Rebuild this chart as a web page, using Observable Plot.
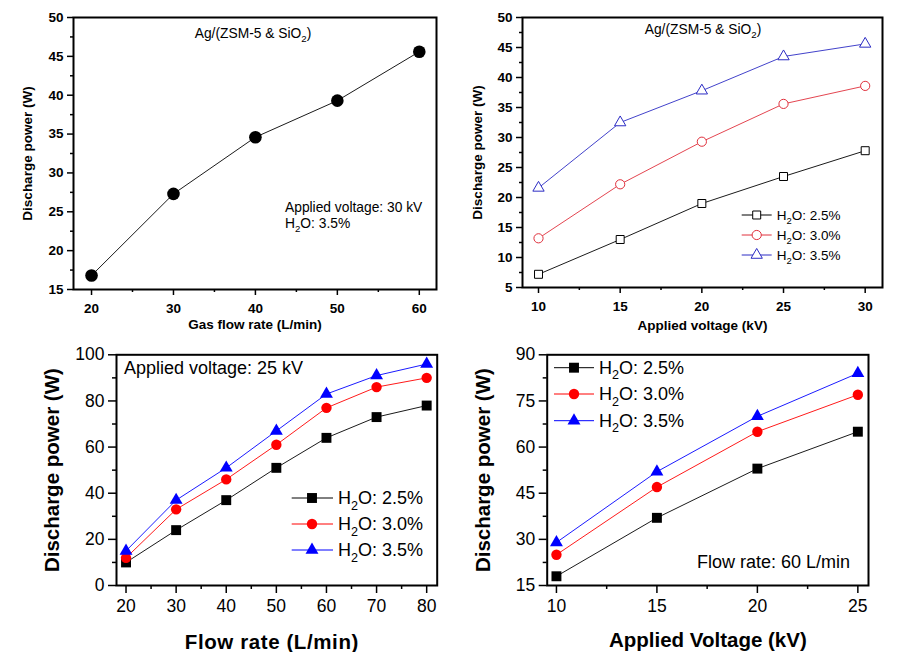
<!DOCTYPE html>
<html><head><meta charset="utf-8">
<script src="https://cdn.jsdelivr.net/npm/d3@7"></script>
<script src="https://cdn.jsdelivr.net/npm/@observablehq/plot@0.6"></script>
<style>
body{margin:0;background:#fff;}
#root{position:relative;width:908px;height:652px;overflow:hidden;background:#fff;}
.panel{position:absolute;}
</style></head><body><div id="root"></div>
<script>
// ---------- DATA ----------
// (a) top-left: discharge power vs gas flow rate
const flowA = [20, 30, 40, 50, 60];
const powerA = [16.8, 27.3, 34.6, 39.3, 45.6];
// (b) top-right: discharge power vs applied voltage
const voltB = [10, 15, 20, 25, 30];
const powerB25 = [7.2, 13.0, 19.0, 23.5, 27.8];
const powerB30 = [13.2, 22.2, 29.3, 35.6, 38.6];
const powerB35 = [21.6, 32.5, 37.8, 43.5, 45.6];
// (c) bottom-left: discharge power vs flow rate
const flowC = [20, 30, 40, 50, 60, 70, 80];
const powerC25 = [10, 24, 37, 51, 64, 73, 78];
const powerC30 = [12, 33, 46, 61, 77, 86, 90];
const powerC35 = [15, 37, 51, 67, 83, 91, 96];
// (d) bottom-right: discharge power vs applied voltage
const voltD = [10, 15, 20, 25];
const powerD25 = [18, 37, 53, 65];
const powerD30 = [25, 47, 65, 77];
const powerD35 = [29, 52, 70, 84];

const seriesNames = ["H₂O: 2.5%", "H₂O: 3.0%", "H₂O: 3.5%"];

// tick labels
const ticksAx = [20, 30, 40, 50, 60], minorAx = [25, 35, 45, 55];
const ticksAy = [15, 20, 25, 30, 35, 40, 45, 50], minorAy = [17.5, 22.5, 27.5, 32.5, 37.5, 42.5, 47.5];
const ticksBx = [10, 15, 20, 25, 30], minorBx = [12.5, 17.5, 22.5, 27.5];
const ticksBy = [5, 10, 15, 20, 25, 30, 35, 40, 45, 50], minorBy = [7.5, 12.5, 17.5, 22.5, 27.5, 32.5, 37.5, 42.5, 47.5];
const ticksCx = [20, 30, 40, 50, 60, 70, 80], minorCx = [25, 35, 45, 55, 65, 75];
const ticksCy = [0, 20, 40, 60, 80, 100], minorCy = [10, 30, 50, 70, 90];
const ticksDx = [10, 15, 20, 25], minorDx = [12.5, 17.5, 22.5];
const ticksDy = [15, 30, 45, 60, 75, 90], minorDy = [22.5, 37.5, 52.5, 67.5, 82.5];

// ---------- HELPERS ----------
const FONT = "Arial, 'Liberation Sans', Helvetica, sans-serif";
const SYM = {square: d3.symbolSquare, circle: d3.symbolCircle, triangle: d3.symbolTriangle};

function richText(g, str, x, y, size, weight, anchor, spacing) {
  const t = g.append("text").attr("x", x).attr("y", y).attr("font-size", size)
    .attr("font-weight", weight || "normal").attr("text-anchor", anchor || "start")
    .attr("dy", "0.35em").attr("fill", "black");
  if (spacing) t.attr("letter-spacing", spacing);
  str.split("₂").forEach((p, i) => {
    if (i > 0) {
      t.append("tspan").attr("font-size", size * 0.7).attr("dy", size * 0.3).text("2");
      t.append("tspan").attr("font-size", size).attr("dy", -size * 0.3).text(p);
    } else t.append("tspan").text(p);
  });
}

function overlay(texts, legend) {
  return () => {
    const g = d3.create("svg:g").attr("font-family", FONT);
    for (const it of texts) richText(g, it.text, it.x, it.y, it.size, it.weight, it.anchor);
    if (legend) {
      legend.rows.forEach((y, i) => {
        const st = legend.styles[i];
        g.append("line").attr("x1", legend.x0).attr("x2", legend.x1).attr("y1", y).attr("y2", y)
          .attr("stroke", st.color).attr("stroke-width", 1);
        g.append("path").attr("transform", `translate(${legend.xm},${y})`)
          .attr("d", d3.symbol(SYM[st.symbol], Math.PI * st.r * st.r)())
          .attr("fill", st.hollow ? "white" : st.color)
          .attr("stroke", st.color).attr("stroke-width", st.hollow ? 1 : 0);
        richText(g, seriesNames[i], legend.xt, y, legend.size, "normal", "start");
      });
    }
    return g.node();
  };
}

function makePanel(cfg) {
  const marks = [];
  const tick = {fontSize: cfg.tickFont, fontWeight: cfg.tickWeight, strokeWidth: 1.5, label: null, tickFormat: d => String(d)};
  marks.push(Plot.axisX({...tick, ticks: cfg.xTicks, tickSize: cfg.major, tickPadding: cfg.xPad}));
  marks.push(Plot.axisX({ticks: cfg.xMinor, tickSize: cfg.minor, strokeWidth: 1.5, text: null, label: null}));
  marks.push(Plot.axisY({...tick, ticks: cfg.yTicks, tickSize: cfg.major, tickPadding: cfg.yPad}));
  marks.push(Plot.axisY({ticks: cfg.yMinor, tickSize: cfg.minor, strokeWidth: 1.5, text: null, label: null}));
  cfg.series.forEach((s, i) => {
    const st = cfg.styles[i];
    const data = cfg.xs.map((x, j) => ({x, y: s[j]}));
    marks.push(Plot.line(data, {x: "x", y: "y", stroke: st.color, strokeWidth: 0.9}));
    marks.push(Plot.dot(data, {x: "x", y: "y", symbol: st.symbol, r: st.r,
      fill: st.hollow ? "white" : st.color, stroke: st.color, strokeWidth: st.hollow ? 1 : 0}));
  });
  marks.push(Plot.frame({stroke: "black", strokeWidth: 2}));
  marks.push(Plot.text([cfg.xLabel], {text: d => d, frameAnchor: "bottom", dy: cfg.xLabelDy, dx: cfg.xLabelDx || 0,
    textAnchor: "middle", lineAnchor: "middle", fontSize: cfg.labelFont, fontWeight: "bold", fill: "black"}));
  marks.push(Plot.text([cfg.yLabel], {text: d => d, frameAnchor: "left", dx: cfg.yLabelDx, rotate: -90,
    textAnchor: "middle", lineAnchor: "middle", fontSize: cfg.labelFont, fontWeight: "bold", fill: "black"}));
  marks.push(overlay(cfg.texts, cfg.legend));
  const svg = Plot.plot({
    width: cfg.width, height: cfg.height,
    marginLeft: cfg.mL, marginRight: cfg.mR, marginTop: cfg.mT, marginBottom: cfg.mB,
    x: {domain: cfg.xDomain}, y: {domain: cfg.yDomain},
    style: {fontFamily: FONT, background: "transparent", color: "black", overflow: "visible"},
    marks
  });
  if (cfg.xLabelSpacing) {
    svg.querySelectorAll("text").forEach(t => { if (t.textContent === cfg.xLabel) t.setAttribute("letter-spacing", cfg.xLabelSpacing); });
  }
  const div = document.createElement("div");
  div.className = "panel";
  div.style.left = cfg.left + "px";
  div.style.top = cfg.top + "px";
  div.appendChild(svg);
  document.getElementById("root").appendChild(div);
}

const hollowStyles = [
  {color: "#000000", symbol: "square", r: 4.5, hollow: true},
  {color: "#e0303c", symbol: "circle", r: 4.6, hollow: true},
  {color: "#2c2cc4", symbol: "triangle", r: 4.2, hollow: true}
];
const solidStyles = [
  {color: "#000000", symbol: "square", r: 5.6},
  {color: "#ff0000", symbol: "circle", r: 5.2},
  {color: "#0000ff", symbol: "triangle", r: 4.8}
];

// (a)
makePanel({
  left: 0, top: 0, width: 450, height: 334, mL: 73, mR: 14, mT: 17, mB: 45,
  xDomain: [17.8, 62.1], yDomain: [15, 50],
  xTicks: ticksAx, xMinor: minorAx, yTicks: ticksAy, yMinor: minorAy,
  tickFont: 13.5, tickWeight: "bold", major: 6, minor: 3, xPad: 8, yPad: 4,
  xs: flowA, series: [powerA], styles: [{color: "#000000", symbol: "circle", r: 6.3}],
  xLabel: "Gas flow rate (L/min)", xLabelDy: 35, yLabel: "Discharge power (W)", yLabelDx: -46, labelFont: 13.5,
  texts: [
    {text: "Ag/(ZSM-5 & SiO₂)", x: 253, y: 33, size: 13.8, anchor: "middle"},
    {text: "Applied voltage: 30 kV", x: 285, y: 207, size: 13.8},
    {text: "H₂O: 3.5%", x: 285, y: 223, size: 13.8}
  ]
});
// (b)
makePanel({
  left: 450, top: 0, width: 458, height: 334, mL: 72, mR: 26, mT: 17, mB: 47,
  xDomain: [9.02, 31.06], yDomain: [5, 50],
  xTicks: ticksBx, xMinor: minorBx, yTicks: ticksBy, yMinor: minorBy,
  tickFont: 13.5, tickWeight: "bold", major: 6, minor: 3, xPad: 8, yPad: 4,
  xs: voltB, series: [powerB25, powerB30, powerB35], styles: hollowStyles,
  xLabel: "Applied voltage (kV)", xLabelDy: 38, yLabel: "Discharge power (W)", yLabelDx: -45, labelFont: 13.5,
  texts: [{text: "Ag/(ZSM-5 & SiO₂)", x: 253, y: 29, size: 13.8, anchor: "middle"}],
  legend: {x0: 291.7, x1: 321.7, xm: 306.7, xt: 326.7, rows: [215, 235, 255], size: 13.5, styles: hollowStyles}
});
// (c)
makePanel({
  left: 0, top: 330, width: 450, height: 322, mL: 116, mR: 13.3, mT: 24.3, mB: 67,
  xDomain: [18.1, 82.1], yDomain: [0, 100],
  xTicks: ticksCx, xMinor: minorCx, yTicks: ticksCy, yMinor: minorCy,
  tickFont: 17.5, tickWeight: "normal", major: 8, minor: 4, xPad: 6, yPad: 4,
  xs: flowC, series: [powerC25, powerC30, powerC35], styles: solidStyles,
  xLabel: "Flow rate (L/min)", xLabelDy: 57, xLabelDx: -5, xLabelSpacing: "0.6px",
  yLabel: "Discharge power (W)", yLabelDx: -64, labelFont: 20.5,
  texts: [{text: "Applied voltage: 25 kV", x: 124, y: 38, size: 18}],
  legend: {x0: 291.7, x1: 333, xm: 312, xt: 338, rows: [168, 194, 220], size: 18, styles: solidStyles}
});
// (d)
makePanel({
  left: 450, top: 330, width: 458, height: 322, mL: 96.7, mR: 40, mT: 24.3, mB: 67,
  xDomain: [9.54, 25.53], yDomain: [15, 90],
  xTicks: ticksDx, xMinor: minorDx, yTicks: ticksDy, yMinor: minorDy,
  tickFont: 17.5, tickWeight: "normal", major: 8, minor: 4, xPad: 6, yPad: 4,
  xs: voltD, series: [powerD25, powerD30, powerD35], styles: solidStyles,
  xLabel: "Applied Voltage (kV)", xLabelDy: 55, yLabel: "Discharge power (W)", yLabelDx: -64, labelFont: 20.5,
  texts: [{text: "Flow rate: 60 L/min", x: 247, y: 232, size: 18}],
  legend: {x0: 104, x1: 144, xm: 124, xt: 149, rows: [37.7, 64, 90.7], size: 18, styles: solidStyles}
});
</script></body></html>
